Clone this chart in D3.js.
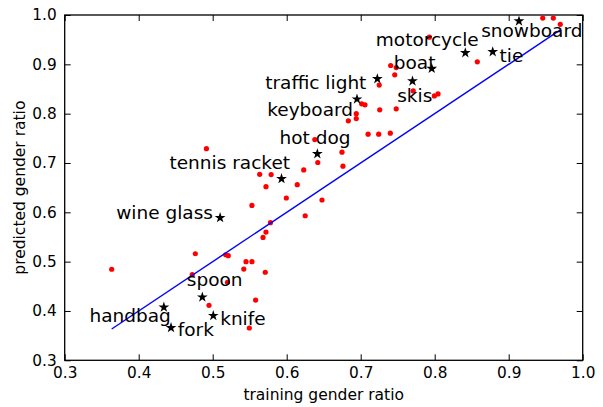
<!DOCTYPE html>
<html>
<head>
<meta charset="utf-8">
<script src="https://cdn.jsdelivr.net/npm/d3@7"></script>
<style>
    body { margin: 0; background: #fff; }
    text { font-family: "DejaVu Sans", sans-serif; }
</style>
</head>
<body>
<div id="chart"></div>
<script>
const X_TICKS = [0.3, 0.4, 0.5, 0.6, 0.7, 0.8, 0.9, 1.0];
const Y_TICKS = [0.3, 0.4, 0.5, 0.6, 0.7, 0.8, 0.9, 1.0];

// annotated objects (stars)
const LABELED_OBJECTS = ["snowboard", "tie", "motorcycle", "boat", "skis", "traffic light", "keyboard",
    "hot dog", "tennis racket", "wine glass", "spoon", "knife", "handbag", "fork"];
const LABELED_TRAINING = [0.9139, 0.8784, 0.8414, 0.796, 0.770, 0.7225, 0.695,
    0.6414, 0.593, 0.510, 0.486, 0.5008, 0.434, 0.4437];
const LABELED_PREDICTED = [0.9876, 0.9254, 0.9233, 0.8915, 0.866, 0.8706, 0.8294,
    0.7185, 0.668, 0.589, 0.428, 0.3905, 0.4075, 0.366];
// where each annotation text sits, in data units
const LABEL_X = [0.8628, 0.8876, 0.7204, 0.7447, 0.7493, 0.571, 0.5737,
    0.5903, 0.4416, 0.3696, 0.465, 0.5101, 0.3335, 0.4528];
const LABEL_Y = [0.9564, 0.904, 0.9369, 0.8909, 0.824, 0.849, 0.7955,
    0.7377, 0.688, 0.5866, 0.4507, 0.3716, 0.3777, 0.3487];

// all other objects (red dots)
const OTHER_TRAINING = [0.3635, 0.553, 0.5995, 0.6477, 0.625, 0.578, 0.572, 0.568, 0.4765, 0.5176,
    0.521, 0.545, 0.553, 0.542, 0.571, 0.4724, 0.520, 0.558, 0.495, 0.5495,
    0.4915, 0.638, 0.6747, 0.642, 0.676, 0.623, 0.5635, 0.579, 0.572, 0.6143,
    0.6833, 0.694, 0.694, 0.7013, 0.7058, 0.7257, 0.748, 0.710, 0.7243, 0.740,
    0.7928, 0.7405, 0.748, 0.746, 0.725, 0.771, 0.7995, 0.8045, 0.8576, 0.946,
    0.9603, 0.9697];
const OTHER_PREDICTED = [0.4846, 0.614, 0.629, 0.625, 0.593, 0.579, 0.560, 0.549, 0.516, 0.514,
    0.512, 0.500, 0.500, 0.485, 0.4785, 0.4736, 0.458, 0.422, 0.4115, 0.3655,
    0.729, 0.7475, 0.722, 0.701, 0.6935, 0.686, 0.677, 0.6765, 0.652, 0.656,
    0.7854, 0.800, 0.790, 0.820, 0.818, 0.8077, 0.8097, 0.7584, 0.7584, 0.7605,
    0.955, 0.8976, 0.8935, 0.8787, 0.858, 0.846, 0.836, 0.840, 0.905, 0.9937,
    0.9937, 0.981];

const width = 603;
const height = 407;
const margin = { top: 15, right: 20.3, bottom: 46.7, left: 64.7 };
const plotWidth = width - margin.left - margin.right;
const plotHeight = height - margin.top - margin.bottom;

const svg = d3.select("#chart").append("svg")
    .attr("width", width)
    .attr("height", height);

const nullpoint = svg.append("g")
    .attr("transform", `translate(${margin.left}, ${margin.top})`);

const xScale = d3.scaleLinear().domain([0.3, 1.0]).range([0, plotWidth]);
const yScale = d3.scaleLinear().domain([0.3, 1.0]).range([plotHeight, 0]);

const fmt = d3.format(".1f");

function styleAxis(g) {
    g.select(".domain").remove();
    g.selectAll(".tick line").attr("stroke", "black").attr("stroke-width", 1);
    g.attr("font-size", 15.3).attr("font-family", "DejaVu Sans, sans-serif");
    g.selectAll(".tick text").attr("fill", "black");
}

// ticks point inward on all four sides
nullpoint.append("g")
    .attr("transform", `translate(0, ${plotHeight})`)
    .call(d3.axisBottom(xScale).tickValues(X_TICKS).tickFormat(fmt)
        .tickSizeInner(-6).tickSizeOuter(0).tickPadding(7))
    .call(styleAxis);

nullpoint.append("g")
    .call(d3.axisTop(xScale).tickValues(X_TICKS).tickFormat("")
        .tickSizeInner(-6).tickSizeOuter(0))
    .call(styleAxis);

nullpoint.append("g")
    .call(d3.axisLeft(yScale).tickValues(Y_TICKS).tickFormat(fmt)
        .tickSizeInner(-6).tickSizeOuter(0).tickPadding(8))
    .call(styleAxis);

nullpoint.append("g")
    .attr("transform", `translate(${plotWidth}, 0)`)
    .call(d3.axisRight(yScale).tickValues(Y_TICKS).tickFormat("")
        .tickSizeInner(-6).tickSizeOuter(0))
    .call(styleAxis);

nullpoint.append("rect")
    .attr("width", plotWidth)
    .attr("height", plotHeight)
    .attr("fill", "none")
    .attr("stroke", "black")
    .attr("stroke-width", 1.3);

// red dots
const others = OTHER_TRAINING.map((t, i) => ({ t: t, p: OTHER_PREDICTED[i] }));
nullpoint.selectAll(".dot")
    .data(others)
    .enter()
    .append("circle")
    .attr("class", "dot")
    .attr("cx", d => xScale(d.t))
    .attr("cy", d => yScale(d.p))
    .attr("r", 2.6)
    .attr("fill", "#ff0000");

// y = x reference over the range of training ratios
const allTraining = OTHER_TRAINING.concat(LABELED_TRAINING);
const xExtent = d3.extent(allTraining);
const refLine = d3.line()
    .x(d => xScale(d))
    .y(d => yScale(d));

nullpoint.append("path")
    .datum(xExtent)
    .attr("fill", "none")
    .attr("stroke", "#0000ff")
    .attr("stroke-width", 1.4)
    .attr("d", refLine);

// stars
const labeled = LABELED_OBJECTS.map((name, i) => ({
    name: name,
    t: LABELED_TRAINING[i],
    p: LABELED_PREDICTED[i],
    lx: LABEL_X[i],
    ly: LABEL_Y[i]
}));

const star = d3.symbol().type(d3.symbolStar).size(36);
nullpoint.selectAll(".star")
    .data(labeled)
    .enter()
    .append("path")
    .attr("class", "star")
    .attr("transform", d => `translate(${xScale(d.t)}, ${yScale(d.p)})`)
    .attr("d", star)
    .attr("fill", "black");

nullpoint.selectAll(".label")
    .data(labeled)
    .enter()
    .append("text")
    .attr("class", "label")
    .attr("x", d => xScale(d.lx))
    .attr("y", d => yScale(d.ly))
    .attr("font-size", 18.5)
    .attr("fill", "black")
    .text(d => d.name);

// axis titles
svg.append("text")
    .attr("x", margin.left + plotWidth / 2)
    .attr("y", 399.5)
    .attr("text-anchor", "middle")
    .attr("font-size", 15.5)
    .text("training gender ratio");

svg.append("text")
    .attr("transform", `translate(25, ${margin.top + plotHeight / 2}) rotate(-90)`)
    .attr("text-anchor", "middle")
    .attr("font-size", 15.5)
    .text("predicted gender ratio");
</script>
</body>
</html>
